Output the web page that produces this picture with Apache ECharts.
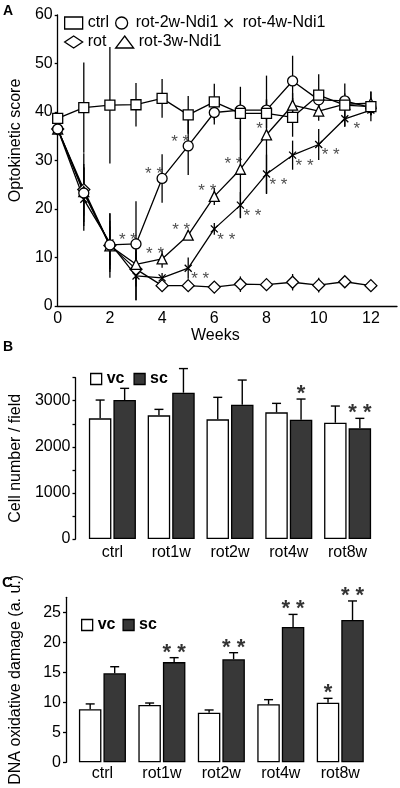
<!DOCTYPE html>
<html><head><meta charset="utf-8">
<script src="https://cdn.jsdelivr.net/npm/echarts@6/dist/echarts.min.js"></script>
<style>html,body{margin:0;padding:0;background:#fff}#c{width:400px;height:788px}</style>
</head><body><div id="c"></div>
<script>
// ---------- Panel A data ----------
const weeks = [0,1,2,3,4,5,6,7,8,9,10,11,12];
const weekTicks = [0,2,4,6,8,10,12];
const ctrl      = [38.7,40.9,41.4,41.5,42.8,39.4,42.1,39.7,39.7,38.9,43.5,41.4,41.1];
const ctrlErr   = [1.0,9.3,12.0,4.5,4.0,3.9,3.7,5.5,3.0,4.0,4.3,4.5,3.0];
const rot       = [36.5,24.0,12.5,7.6,4.2,4.2,3.9,4.5,4.4,4.9,4.3,5.0,4.2];
const rotErr    = [1.0,7.5,6.7,6.4,0.8,0.8,0.6,1.6,0.8,1.7,1.5,0.6,0.6];
const rot2w     = [36.5,23.3,12.6,12.8,26.3,33.0,39.9,40.4,40.4,46.4,42.5,42.3,40.9];
const rot2wErr  = [1.0,6.0,5.0,8.8,5.0,6.0,2.5,2.0,2.0,5.2,2.0,1.5,1.5];
const rot3w     = [36.5,23.6,12.4,8.6,9.7,14.6,22.6,28.2,35.3,41.4,40.2,41.6,41.8];
const rot3wErr  = [1.0,5.0,4.0,3.0,1.8,1.0,1.8,10.0,12.2,2.5,2.0,1.5,2.5];
const rot4w     = [36.5,22.0,13.0,6.2,5.8,7.8,15.9,20.8,27.2,31.1,33.3,38.6,40.4];
const rot4wErr  = [1.0,6.5,6.0,5.0,1.0,2.2,1.2,2.7,4.0,3.0,3.2,1.5,1.0];
const rot2wStars = ['','','','**','**','**','','','','','','',''];
const rot3wStars = ['','','','','**','**','**','**','*','','','',''];
const rot4wStars = ['','','','','','**','**','**','**','**','**','*',''];
const scoreTicks = [0,10,20,30,40,50,60];

// ---------- Panels B / C data ----------
const groups = ['ctrl','rot1w','rot2w','rot4w','rot8w'];
const cellVc     = [2618,2683,2596,2748,2523];
const cellVcErr  = [397,130,478,195,362];
const cellSc     = [3015,3174,2913,2589,2401];
const cellScErr  = [254,524,536,448,217];
const cellVcStars = ['','','','',''];
const cellScStars = ['','','','*','**'];
const cellTicks = [0,1000,2000,3000];
const dnaVc     = [8.83,9.55,8.27,9.67,9.94];
const dnaVcErr  = [0.90,0.33,0.45,0.77,0.72];
const dnaSc     = [14.83,16.70,17.17,22.55,23.72];
const dnaScErr  = [1.10,0.74,1.10,2.10,3.17];
const dnaVcStars = ['','','','','*'];
const dnaScStars = ['','**','**','**','**'];
const dnaTicks = [0,5,10,15,20,25];

// ---------- styles ----------
const FONT = "'Liberation Sans', Arial, Helvetica, sans-serif";
const BLACK = '#000';
const DARK = '#383838';
const XPATH = 'path://M0,0L10,10M10,0L0,10';
const chart = echarts.init(document.getElementById('c'), null, {renderer:'canvas'});

function lineSeries(name, vals, symbol, size) {
  return {
    type:'line', name, xAxisIndex:0, yAxisIndex:0,
    data: weeks.map((w,i)=>[w, vals[i]]),
    symbol, symbolSize:size, showAllSymbol:true,
    lineStyle:{color:BLACK, width:1.3},
    itemStyle:{color:'#fff', borderColor:BLACK, borderWidth:1.3},
    emphasis:{disabled:true}, z:5, animation:false
  };
}
function errA(vals, errs) {
  return {
    type:'custom', xAxisIndex:0, yAxisIndex:0, silent:true, z:2, animation:false,
    data: weeks.map((w,i)=>[w, vals[i]-errs[i], vals[i]+errs[i]]),
    renderItem:(p, api)=>{
      const a = api.coord([api.value(0), api.value(1)]);
      const b = api.coord([api.value(0), api.value(2)]);
      return {type:'line', shape:{x1:a[0],y1:a[1],x2:b[0],y2:b[1]}, style:{stroke:BLACK, lineWidth:1.3}};
    }
  };
}
function starsA(vals, stars, off) {
  return {
    type:'scatter', xAxisIndex:0, yAxisIndex:0, silent:true, z:6, animation:false,
    symbolSize:1, itemStyle:{color:'transparent'},
    data: weeks.map((w,i)=>[w, vals[i]]),
    label:{show:true, position:'inside', offset:off, fontFamily:FONT, fontSize:17, color:'#222',
      formatter:(p)=>stars[p.dataIndex].split('').join(' ')}
  };
}
function bars(name, vals, fill, xi) {
  return {
    type:'bar', name, xAxisIndex:xi, yAxisIndex:xi, data:vals,
    barWidth:22.5, barGap:'9%',
    itemStyle:{color:fill, borderColor:BLACK, borderWidth:1.3},
    emphasis:{disabled:true}, animation:false, z:3
  };
}
function errBar(vals, errs, xi, dx) {
  return {
    type:'custom', xAxisIndex:xi, yAxisIndex:xi, silent:true, z:2, animation:false,
    data: vals.map((v,i)=>[i, v, v+errs[i]]),
    renderItem:(p, api)=>{
      const a = api.coord([api.value(0), api.value(1)]);
      const b = api.coord([api.value(0), api.value(2)]);
      const x = a[0]+dx;
      return {type:'group', children:[
        {type:'line', shape:{x1:x,y1:a[1],x2:x,y2:b[1]}, style:{stroke:BLACK, lineWidth:1.4}},
        {type:'line', shape:{x1:x-4.5,y1:b[1],x2:x+4.5,y2:b[1]}, style:{stroke:BLACK, lineWidth:1.4}}
      ]};
    }
  };
}
function starsBar(vals, errs, stars, xi, dx) {
  return {
    type:'scatter', xAxisIndex:xi, yAxisIndex:xi, silent:true, z:6, animation:false,
    symbolSize:1, itemStyle:{color:'transparent'},
    data: vals.map((v,i)=>[i, v+errs[i]]),
    label:{show:true, position:'inside', offset:[dx,-5], fontFamily:FONT, fontSize:22, fontWeight:'bold', color:BLACK,
      formatter:(p)=>stars[p.dataIndex].split('').join(' ')}
  };
}
const axisText = {fontFamily:FONT, fontSize:16, color:BLACK};
function legendA(name, icon, left, top, w, h) {
  return {
    left, top, data:[{name, icon}], itemWidth:w||18, itemHeight:h||12, symbolKeepAspect:true,
    selectedMode:false, textStyle:{fontFamily:FONT, fontSize:16, color:BLACK},
    itemStyle:{color:'#fff', borderColor:BLACK, borderWidth:1.3}, lineStyle:{width:0}
  };
}
function legendBar(left, top, gap) {
  return {
    left, top, itemGap:gap, selectedMode:false, itemWidth:11, itemHeight:11,
    data:[{name:'vc', icon:'rect'},{name:'sc', icon:'rect'}],
    textStyle:{fontFamily:FONT, fontSize:16, fontWeight:'bold', color:BLACK},
    itemStyle:{borderColor:BLACK, borderWidth:1.3}
  };
}

const option = {
  animation:false,
  backgroundColor:'#fff',
  textStyle:{fontFamily:FONT},
  grid:[
    {left:52, top:15, width:347, height:291},
    {left:77, top:377.7, width:300, height:161.3},
    {left:70, top:597.3, width:300, height:165}
  ],
  xAxis:[
    {gridIndex:0, type:'value', min:0, max:13, interval:2,
     name:'Weeks', nameLocation:'middle', nameGap:20,
     nameTextStyle:Object.assign({padding:[0,24,0,0]}, axisText),
     axisLine:{lineStyle:{color:BLACK, width:1.3}}, axisTick:{show:false}, splitLine:{show:false},
     axisLabel:Object.assign({margin:5, formatter:(v)=>weekTicks.includes(v)?String(v):''}, axisText)},
    {gridIndex:1, type:'category', data:groups,
     axisLine:{show:false}, axisTick:{show:false},
     axisLabel:Object.assign({margin:6}, axisText)},
    {gridIndex:2, type:'category', data:groups,
     axisLine:{show:false}, axisTick:{show:false},
     axisLabel:Object.assign({margin:3}, axisText)}
  ],
  yAxis:[
    {gridIndex:0, type:'value', min:0, max:60, interval:10,
     name:'Optokinetic score', nameLocation:'middle', nameGap:30,
     nameTextStyle:Object.assign({padding:[0,0,0,40]}, axisText),
     axisLine:{show:true, lineStyle:{color:BLACK, width:1.3}},
     axisTick:{show:true, length:3, lineStyle:{color:BLACK, width:1.3}}, splitLine:{show:false},
     axisLabel:Object.assign({margin:5, formatter:(v)=>scoreTicks.includes(v)?String(v):''}, axisText)},
    {gridIndex:1, type:'value', min:0, max:3500, interval:500, offset:7.5,
     name:'Cell number / field', nameLocation:'middle', nameGap:46,
     nameTextStyle:axisText,
     axisLine:{show:true, lineStyle:{color:BLACK, width:1.3}},
     axisTick:{show:true, length:3, lineStyle:{color:BLACK, width:1.3}}, splitLine:{show:false},
     axisLabel:Object.assign({margin:5, formatter:(v)=>cellTicks.includes(v)?String(v):''}, axisText)},
    {gridIndex:2, type:'value', min:0, max:27.5, interval:5, offset:6.7,
     name:'DNA oxidative damage (a. u.)', nameLocation:'middle', nameGap:42,
     nameTextStyle:axisText,
     axisLine:{show:true, lineStyle:{color:BLACK, width:1.3}},
     axisTick:{show:true, length:3, customValues:dnaTicks, lineStyle:{color:BLACK, width:1.3}}, splitLine:{show:false},
     axisLabel:Object.assign({margin:5, customValues:dnaTicks, formatter:(v)=>dnaTicks.includes(v)?String(v):''}, axisText)}
  ],
  legend:[
    legendA('ctrl','rect',59,10),
    legendA('rot-2w-Ndi1','circle',110,10),
    legendA('rot-4w-Ndi1',XPATH,219,10,18,8),
    legendA('rot','diamond',59,29),
    legendA('rot-3w-Ndi1','triangle',110,29),
    legendBar(85,366,9),
    legendBar(76,612,7)
  ],
  graphic:[
    {type:'text', left:3, top:4, style:{text:'A', font:'bold 14px '+FONT, fill:BLACK}},
    {type:'text', left:3, top:340, style:{text:'B', font:'bold 14px '+FONT, fill:BLACK}},
    {type:'text', left:2, top:575, style:{text:'C', font:'bold 15px '+FONT, fill:BLACK}}
  ],
  series:[
    errA(ctrl, ctrlErr), errA(rot, rotErr), errA(rot2w, rot2wErr), errA(rot3w, rot3wErr), errA(rot4w, rot4wErr),
    lineSeries('rot', rot, 'diamond', 12),
    lineSeries('rot-4w-Ndi1', rot4w, XPATH, 7),
    lineSeries('rot-3w-Ndi1', rot3w, 'triangle', 10),
    lineSeries('rot-2w-Ndi1', rot2w, 'circle', 10),
    lineSeries('ctrl', ctrl, 'rect', 10),
    starsA(rot2w, rot2wStars, [-8,-4]),
    starsA(rot3w, rot3wStars, [-7,-5]),
    starsA(rot4w, rot4wStars, [12,11]),
    errBar(cellVc, cellVcErr, 1, -12.25), errBar(cellSc, cellScErr, 1, 12.25),
    bars('vc', cellVc, '#fff', 1), bars('sc', cellSc, DARK, 1),
    starsBar(cellVc, cellVcErr, cellVcStars, 1, -12.25), starsBar(cellSc, cellScErr, cellScStars, 1, 12.25),
    errBar(dnaVc, dnaVcErr, 2, -12.25), errBar(dnaSc, dnaScErr, 2, 12.25),
    bars('vc', dnaVc, '#fff', 2), bars('sc', dnaSc, DARK, 2),
    starsBar(dnaVc, dnaVcErr, dnaVcStars, 2, -12.25), starsBar(dnaSc, dnaScErr, dnaScStars, 2, 12.25)
  ]
};
chart.setOption(option);
</script>
</body></html>
